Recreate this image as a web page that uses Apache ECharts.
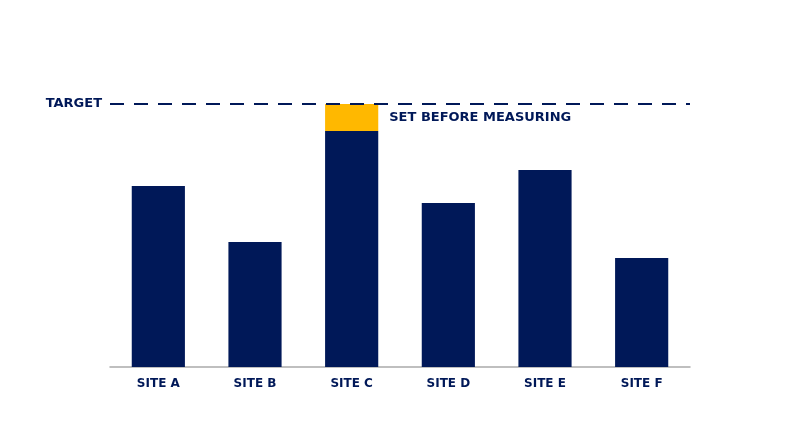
<!DOCTYPE html>
<html><head><meta charset="utf-8">
<script src="https://cdn.jsdelivr.net/npm/echarts@6/dist/echarts.min.js"></script>
<style>html,body{margin:0;padding:0;background:#fff}#c{width:800px;height:447px}</style>
</head><body><div id="c"></div>
<script>
const categories = ['SITE A','SITE B','SITE C','SITE D','SITE E','SITE F'];
const measured = [68.8, 47.5, 89.7, 62.4, 74.9, 41.4];
const gapToTarget = [null, null, 10.3, null, null, null];
const target = 100;
const targetLabel = 'TARGET';
const gapLabel = 'SET BEFORE MEASURING';

const navy = '#001858';
const chart = echarts.init(document.getElementById('c'));
chart.setOption({
  animation: false,
  grid: {left: 110, right: 110, top: 104, bottom: 80},
  xAxis: {
    type: 'category', data: categories,
    axisLine: {lineStyle: {color: '#aaaaaa', width: 1.5}},
    axisTick: {show: false},
    axisLabel: {color: navy, fontWeight: 'bold', fontSize: 12, fontFamily: 'DejaVu Sans', margin: 11}
  },
  yAxis: {type: 'value', min: 0, max: target, show: false, splitLine: {show: false}},
  series: [
    {
      type: 'bar', stack: 's', data: measured, barWidth: '55%',
      itemStyle: {color: navy},
      markLine: {
        symbol: 'none', silent: true,
        lineStyle: {color: navy, type: [14, 10], width: 2},
        label: {position: 'start', formatter: targetLabel, color: navy, fontWeight: 'bold', fontSize: 13, fontFamily: 'DejaVu Sans', distance: 8},
        data: [{yAxis: target}]
      }
    },
    {
      type: 'bar', stack: 's', data: gapToTarget, barWidth: '55%',
      itemStyle: {color: '#FFB800'},
      label: {show: true, position: 'right', distance: 11, formatter: gapLabel, color: navy, fontWeight: 'bold', fontSize: 13, fontFamily: 'DejaVu Sans'}
    }
  ]
});
</script></body></html>
